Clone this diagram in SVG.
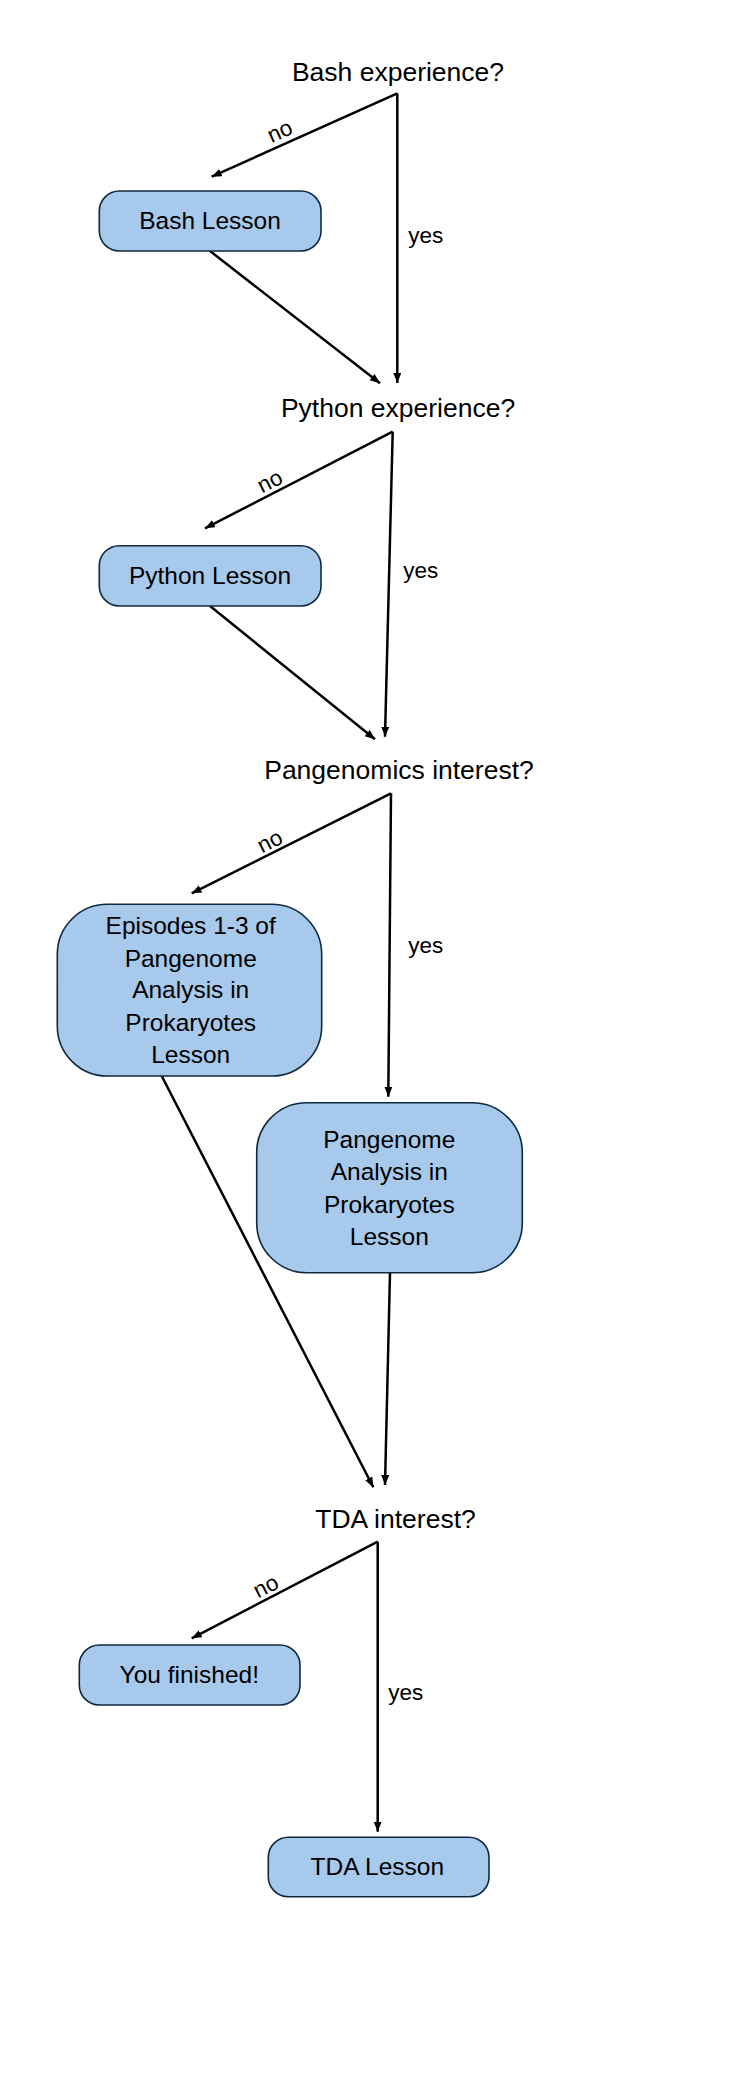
<svg xmlns="http://www.w3.org/2000/svg" width="756" height="2079" viewBox="0 0 756 2079">
<style>
.q{font-family:"Liberation Sans",Arial,sans-serif;font-size:26.5px;fill:#000;text-anchor:middle}
.b{fill:#a6c9ec;stroke:#0e2841;stroke-width:1.6}
.t{font-family:"Liberation Sans",Arial,sans-serif;font-size:24.5px;fill:#000;text-anchor:middle}
.l{font-family:"Liberation Sans",Arial,sans-serif;font-size:22.5px;fill:#000}
.c{stroke:#000;stroke-width:2.5;fill:none;marker-end:url(#ah)}
</style>
<defs>
<marker id="ah" markerUnits="userSpaceOnUse" markerWidth="11" markerHeight="9" refX="10" refY="4" orient="auto">
<path d="M0,0 L10,4 L0,8 z" fill="#000"/>
</marker>
</defs>
<rect width="756" height="2079" fill="#fff"/>
<g id="connectors">
<line class="c" x1="397.3" y1="93.3" x2="211.7" y2="176.7"/>
<line class="c" x1="397.3" y1="93.3" x2="397.3" y2="383"/>
<line class="c" x1="210" y1="251" x2="380" y2="383.3"/>
<line class="c" x1="392.7" y1="431.7" x2="205" y2="528.3"/>
<line class="c" x1="392.7" y1="431.7" x2="385" y2="736.7"/>
<line class="c" x1="210" y1="606" x2="375" y2="739.3"/>
<line class="c" x1="391" y1="793.3" x2="191.7" y2="893.3"/>
<line class="c" x1="391" y1="793.3" x2="388.3" y2="1096.7"/>
<line class="c" x1="161.7" y1="1076" x2="373.3" y2="1487.3"/>
<line class="c" x1="390" y1="1272.7" x2="385" y2="1485"/>
<line class="c" x1="377.7" y1="1541.7" x2="191.7" y2="1638.3"/>
<line class="c" x1="377.7" y1="1541.7" x2="377.7" y2="1831.7"/>
<text class="l" text-anchor="middle" transform="translate(280,131.7) rotate(-24)" y="7">no</text>
<text class="l" x="408.3" y="243">yes</text>
<text class="l" text-anchor="middle" transform="translate(270,481.7) rotate(-27)" y="7">no</text>
<text class="l" x="403.3" y="578">yes</text>
<text class="l" text-anchor="middle" transform="translate(270,841.7) rotate(-27)" y="7">no</text>
<text class="l" x="408.3" y="952.7">yes</text>
<text class="l" text-anchor="middle" transform="translate(266,1586.7) rotate(-27)" y="7">no</text>
<text class="l" x="388.3" y="1700">yes</text>
</g>
<g id="q-bash"><text class="q" x="398" y="80.7">Bash experience?</text></g>
<g id="bash-lesson">
<rect class="b" x="99.3" y="191" width="221.7" height="60" rx="20"/>
<text class="t" x="210" y="229.3">Bash Lesson</text>
</g>
<g id="q-python"><text class="q" x="398" y="416.7">Python experience?</text></g>
<g id="python-lesson">
<rect class="b" x="99.3" y="545.7" width="221.7" height="60.3" rx="20"/>
<text class="t" x="210" y="584">Python Lesson</text>
</g>
<g id="q-pangenomics"><text class="q" x="399" y="779.3">Pangenomics interest?</text></g>
<g id="episodes">
<rect class="b" x="57.3" y="904.3" width="264.4" height="171.7" rx="50"/>
<text class="t" x="190.7" y="934.3">Episodes 1-3 of</text>
<text class="t" x="190.7" y="966.7">Pangenome</text>
<text class="t" x="190.7" y="998.3">Analysis in</text>
<text class="t" x="190.7" y="1031">Prokaryotes</text>
<text class="t" x="190.7" y="1063.3">Lesson</text>
</g>
<g id="pangenome-lesson">
<rect class="b" x="256.7" y="1102.7" width="265.6" height="170" rx="50"/>
<text class="t" x="389.3" y="1148.3">Pangenome</text>
<text class="t" x="389.3" y="1180">Analysis in</text>
<text class="t" x="389.3" y="1212.7">Prokaryotes</text>
<text class="t" x="389.3" y="1245">Lesson</text>
</g>
<g id="q-tda"><text class="q" x="395.5" y="1528.3">TDA interest?</text></g>
<g id="finished">
<rect class="b" x="79.3" y="1645" width="220.7" height="60" rx="20"/>
<text class="t" x="189.3" y="1683.3">You finished!</text>
</g>
<g id="tda-lesson">
<rect class="b" x="268.3" y="1837.3" width="220.7" height="59.4" rx="20"/>
<text class="t" x="377.3" y="1875">TDA Lesson</text>
</g>
</svg>
